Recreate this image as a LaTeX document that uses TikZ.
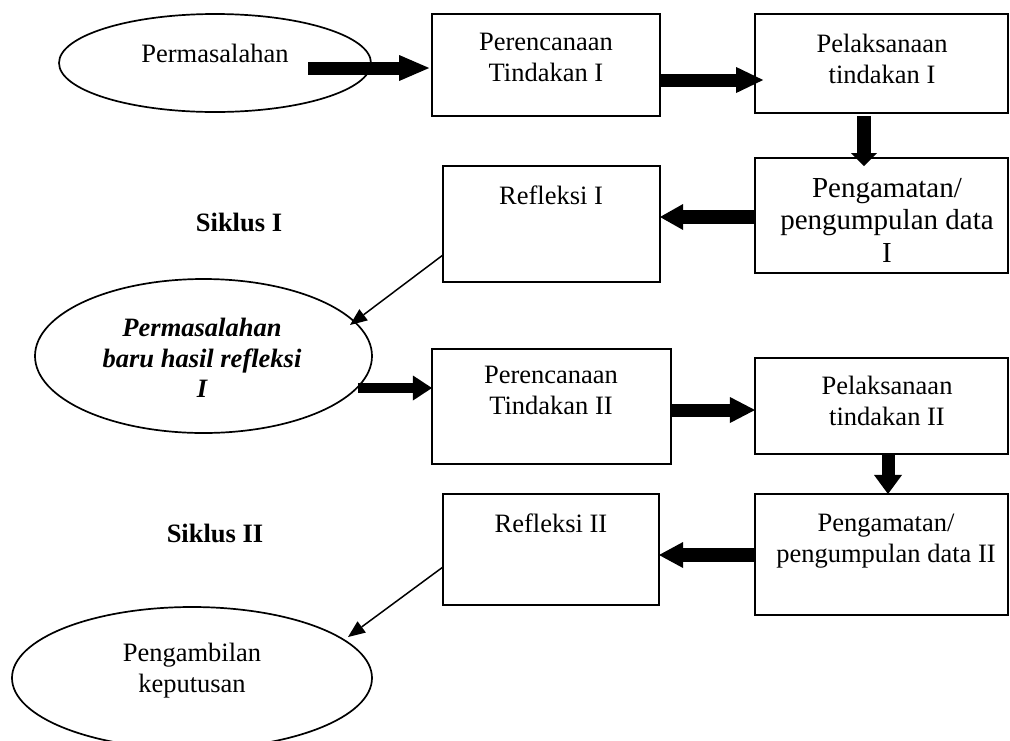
\documentclass[tikz,border=0pt]{standalone}
\usepackage{fontspec}
\setmainfont{Liberation Serif}
\usetikzlibrary{shapes.geometric,arrows.meta,calc}
\begin{document}
\begin{tikzpicture}[x=1pt,y=-1pt,
  box/.style={draw,line width=1.7pt,rectangle,inner sep=0pt},
  oval/.style={draw,line width=1.7pt,ellipse,inner sep=0pt},
  txt/.style={anchor=north,align=center,inner sep=0pt,font=\fontsize{26.5}{30.5}\selectfont},
  bigtxt/.style={txt,font=\fontsize{29}{32.5}\selectfont},
  boldtxt/.style={txt,font=\fontsize{26.5}{30.5}\selectfont\bfseries},
  bitxt/.style={txt,font=\fontsize{26.5}{30.5}\selectfont\bfseries\itshape},
  fatarrow/.style n args={3}{line width=#1,-{Triangle[length=#2,width=#3,line width=0pt]}},
  thinarrow/.style={line width=1.5pt,-{Triangle[length=17pt,width=14pt,line width=0pt]}},
]
\useasboundingbox (0,0) rectangle (1010,740);
\clip (0,0) rectangle (1010,740);

% row 1
\node[oval,minimum width=312pt,minimum height=98pt] (e1) at (215,63) {};
\node[txt] (e1t) at (215,44) {Permasalahan};
\node[box,minimum width=228pt,minimum height=102pt] (P1) at (546,65) {};
\node[txt] (P1t) at (546,33) {Perencanaan\\Tindakan I};
\node[box,minimum width=253pt,minimum height=99pt] (L1) at (881.5,63.5) {};
\node[txt] (L1t) at (882,34) {Pelaksanaan\\tindakan I};

% row 2
\node[box,minimum width=253pt,minimum height=115pt] (G1) at (881.5,215.5) {};
\node[bigtxt] (G1t) at (887,178) {Pengamatan/\\pengumpulan data\\I};
\node[box,minimum width=217pt,minimum height=116pt] (R1) at (551.5,224) {};
\node[txt] (R1t) at (551,186) {Refleksi I};
\node[boldtxt] (S1) at (239,213) {Siklus I};

% row 3
\node[oval,minimum width=337pt,minimum height=154pt] (e2) at (203.5,356) {};
\node[bitxt] (e2t) at (202,318) {Permasalahan\\baru hasil refleksi\\I};
\node[box,minimum width=239pt,minimum height=115pt] (P2) at (551.5,406.5) {};
\node[txt] (P2t) at (551,366) {Perencanaan\\Tindakan II};
\node[box,minimum width=253pt,minimum height=96pt] (L2) at (881.5,406) {};
\node[txt] (L2t) at (887,376) {Pelaksanaan\\tindakan II};

% row 4
\node[box,minimum width=253pt,minimum height=121pt] (G2) at (881.5,554.5) {};
\node[txt] (G2t) at (886,514) {Pengamatan/\\pengumpulan data II};
\node[box,minimum width=216pt,minimum height=111pt] (R2) at (551,549.5) {};
\node[txt] (R2t) at (551,514) {Refleksi II};
\node[boldtxt] (S2) at (215,524) {Siklus II};

% row 5
\node[oval,minimum width=360pt,minimum height=142pt] (e3) at (192,678) {};
\node[txt] (e3t) at (192,643) {Pengambilan\\keputusan};

% connectors
\draw[fatarrow={13pt}{30pt}{26pt}] ($(e1.center)+(93,5)$) -- ($(P1.west)+(-2,3)$);
\draw[fatarrow={13pt}{27pt}{26pt}] ($(P1.east)+(0,15)$) -- ($(L1.west)+(9,16.5)$);
\draw[fatarrow={14pt}{13pt}{26pt}] ($(L1.south)+(-17.5,2)$) -- ($(G1.north)+(-17.5,9)$);
\draw[fatarrow={14pt}{23pt}{26pt}] ($(G1.west)+(0.8,1.5)$) -- ($(R1.east)+(-0.8,-7)$);
\draw[thinarrow] ($(R1.west)+(0.8,31)$) -- ($(e2.center)+(146.5,-31)$);
\draw[fatarrow={10pt}{19pt}{25pt}] ($(e2.center)+(154.5,32)$) -- ($(P2.west)+(0.8,-18.5)$);
\draw[fatarrow={13pt}{25pt}{26pt}] ($(P2.east)+(0,3.5)$) -- ($(L2.west)+(0.8,4)$);
\draw[fatarrow={13pt}{19pt}{28pt}] ($(L2.south)+(6.5,0)$) -- ($(G2.north)+(6.5,0.8)$);
\draw[fatarrow={14pt}{24pt}{26pt}] ($(G2.west)+(0.8,0.5)$) -- ($(R2.east)+(-0.8,5.5)$);
\draw[thinarrow] ($(R2.west)+(0.8,17.5)$) -- ($(e3.center)+(156,-41)$);
\end{tikzpicture}
\end{document}
